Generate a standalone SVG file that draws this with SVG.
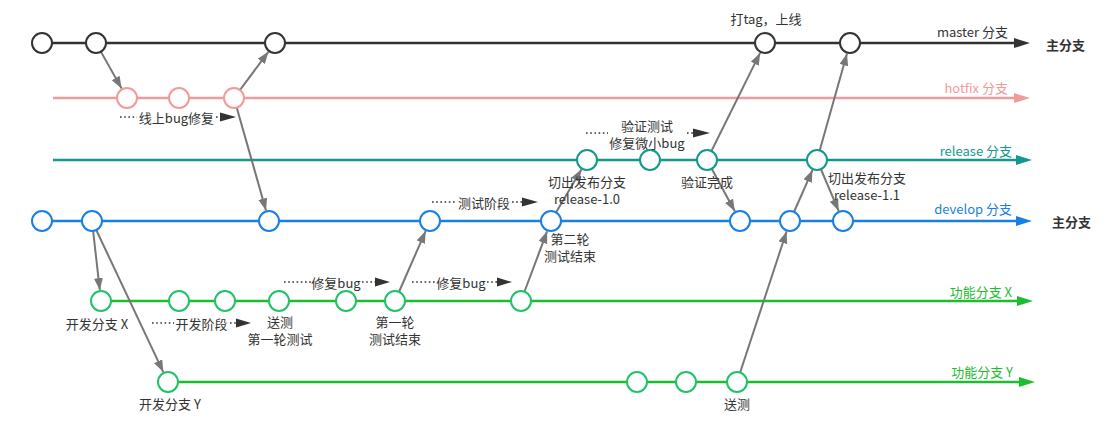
<svg xmlns="http://www.w3.org/2000/svg" width="1115" height="424" viewBox="0 0 1115 424">
<style>
text{font-family:"Noto Sans CJK SC","Noto Sans",sans-serif;font-size:13px;fill:#333;dominant-baseline:central}
.mid{text-anchor:middle}
.end{text-anchor:end}
.bold{font-weight:bold}
.c{fill:#fff;stroke-width:2}
.cm{stroke:#333}.ch{stroke:#f29a9b}.cr{stroke:#14988c}.cd{stroke:#1a7fe3}.cf{stroke:#22c16a}
.ln{stroke-width:2.5;fill:none}
.conn line{stroke:#777;stroke-width:2;marker-end:url(#ga)}
.dot{stroke:#333;stroke-width:1.6;stroke-dasharray:1.6 2.6}
.tri{fill:#333}
</style>
<defs>
<marker id="ga" markerUnits="userSpaceOnUse" markerWidth="13" markerHeight="10" refX="12" refY="4.5" orient="auto"><path d="M0,0 L12,4.5 L0,9 z" fill="#777"/></marker>
</defs>
<g id="branch-master"><line class="ln" x1="42" y1="43" x2="1014" y2="43" stroke="#333"/><polygon points="1014,38 1030,43 1014,48" fill="#333"/><text class="end" x="1008" y="31">master 分支</text><text class="bold" x="1046" y="44">主分支</text></g>
<g id="branch-hotfix"><line class="ln" x1="53" y1="98" x2="1014" y2="98" stroke="#f29a9b"/><polygon points="1014,93 1030,98 1014,103" fill="#f29a9b"/><text class="end" x="1008" y="87" style="fill:#f29a9b">hotfix 分支</text></g>
<g id="branch-release"><line class="ln" x1="53" y1="160" x2="1016" y2="160" stroke="#14988c"/><polygon points="1016,155 1032,160 1016,165" fill="#14988c"/><text class="end" x="1012" y="150" style="fill:#14988c">release 分支</text></g>
<g id="branch-develop"><line class="ln" x1="42" y1="221" x2="1016" y2="221" stroke="#1a7fe3"/><polygon points="1016,216 1032,221 1016,226" fill="#1a7fe3"/><text class="end" x="1012" y="208" style="fill:#1a7fe3">develop 分支</text><text class="bold" x="1052" y="221">主分支</text></g>
<g id="branch-featureX"><line class="ln" x1="101" y1="301" x2="1017" y2="301" stroke="#1ebd2f"/><polygon points="1017,296 1033,301 1017,306" fill="#1ebd2f"/><text class="end" x="1012" y="291" style="fill:#1ebd2f">功能分支 X</text></g>
<g id="branch-featureY"><line class="ln" x1="168" y1="382" x2="1019" y2="382" stroke="#1ebd2f"/><polygon points="1019,377 1035,382 1019,387" fill="#1ebd2f"/><text class="end" x="1013" y="371" style="fill:#1ebd2f">功能分支 Y</text></g>
<g id="connectors" class="conn">
<line x1="96" y1="43" x2="121.6" y2="88.4"/>
<line x1="234" y1="98" x2="268.4" y2="51.8"/>
<line x1="234" y1="98" x2="266" y2="210.4"/>
<line x1="92" y1="221" x2="99.8" y2="290.1"/>
<line x1="92" y1="221" x2="163.3" y2="372.1"/>
<line x1="395" y1="301" x2="425.6" y2="231.1"/>
<line x1="521" y1="301" x2="547.1" y2="231.3"/>
<line x1="551" y1="221" x2="581.4" y2="169.5"/>
<line x1="707" y1="160" x2="760.1" y2="52.9"/>
<line x1="707" y1="160" x2="734.8" y2="211.3"/>
<line x1="737" y1="382" x2="786.6" y2="231.4"/>
<line x1="790" y1="221" x2="812.5" y2="170.1"/>
<line x1="817" y1="160" x2="847" y2="53.6"/>
<line x1="817" y1="160" x2="838.7" y2="210.9"/>
</g>
<g id="m1"><circle class="c cm" cx="42" cy="43" r="10"/></g>
<g id="m2"><circle class="c cm" cx="96" cy="43" r="10"/></g>
<g id="m3"><circle class="c cm" cx="275" cy="43" r="10"/></g>
<g id="m4"><circle class="c cm" cx="765" cy="43" r="10"/><text class="mid" x="766" y="18">打tag，上线</text></g>
<g id="m5"><circle class="c cm" cx="850" cy="43" r="10"/></g>
<g id="h1"><circle class="c ch" cx="127" cy="98" r="10"/></g>
<g id="h2"><circle class="c ch" cx="179" cy="98" r="10"/></g>
<g id="h3"><circle class="c ch" cx="234" cy="98" r="10"/></g>
<g id="r1"><circle class="c cr" cx="587" cy="160" r="10"/><text class="mid" x="587" y="181">切出发布分支</text><text class="mid" x="587" y="198">release-1.0</text></g>
<g id="r2"><circle class="c cr" cx="650" cy="160" r="10"/></g>
<g id="r3"><circle class="c cr" cx="707" cy="160" r="10"/><text class="mid" x="707" y="181">验证完成</text></g>
<g id="r4"><circle class="c cr" cx="817" cy="160" r="10"/><text class="mid" x="867" y="177">切出发布分支</text><text class="mid" x="867" y="194">release-1.1</text></g>
<g id="d1"><circle class="c cd" cx="42" cy="221" r="10"/></g>
<g id="d2"><circle class="c cd" cx="92" cy="221" r="10"/></g>
<g id="d3"><circle class="c cd" cx="269" cy="221" r="10"/></g>
<g id="d4"><circle class="c cd" cx="430" cy="221" r="10"/></g>
<g id="d5"><circle class="c cd" cx="551" cy="221" r="10"/><text class="mid" x="570" y="238">第二轮</text><text class="mid" x="570" y="255">测试结束</text></g>
<g id="d6"><circle class="c cd" cx="740" cy="221" r="10"/></g>
<g id="d7"><circle class="c cd" cx="790" cy="221" r="10"/></g>
<g id="d8"><circle class="c cd" cx="843" cy="221" r="10"/></g>
<g id="x1"><circle class="c cf" cx="101" cy="301" r="10"/><text class="mid" x="97" y="323">开发分支 X</text></g>
<g id="x2"><circle class="c cf" cx="179" cy="301" r="10"/></g>
<g id="x3"><circle class="c cf" cx="225" cy="301" r="10"/></g>
<g id="x4"><circle class="c cf" cx="279" cy="301" r="10"/><text class="mid" x="280" y="321">送测</text><text class="mid" x="280" y="338">第一轮测试</text></g>
<g id="x5"><circle class="c cf" cx="346" cy="301" r="10"/></g>
<g id="x6"><circle class="c cf" cx="395" cy="301" r="10"/><text class="mid" x="395" y="321">第一轮</text><text class="mid" x="395" y="338">测试结束</text></g>
<g id="x7"><circle class="c cf" cx="521" cy="301" r="10"/></g>
<g id="y1"><circle class="c cf" cx="168" cy="382" r="10"/><text class="mid" x="170" y="403">开发分支 Y</text></g>
<g id="y2"><circle class="c cf" cx="637" cy="382" r="10"/></g>
<g id="y3"><circle class="c cf" cx="686" cy="382" r="10"/></g>
<g id="y4"><circle class="c cf" cx="737" cy="382" r="10"/><text class="mid" x="737" y="403">送测</text></g>
<g id="note-hotfix"><line class="dot" x1="120" y1="117" x2="137" y2="117"/><text class="mid" x="176.5" y="117">线上bug修复</text><line class="dot" x1="216" y1="117" x2="220" y2="117"/><polygon class="tri" points="220,112.5 236,117 220,121.5"/></g>
<g id="note-verify"><line class="dot" x1="586" y1="133" x2="608" y2="133"/><text class="mid" x="647" y="125">验证测试</text><text class="mid" x="647" y="142">修复微小bug</text><line class="dot" x1="687" y1="133" x2="693" y2="133"/><polygon class="tri" points="693,128.5 710,133 693,137.5"/></g>
<g id="note-test"><line class="dot" x1="432" y1="202" x2="456" y2="202"/><text class="mid" x="484" y="202">测试阶段</text><line class="dot" x1="512" y1="202" x2="522" y2="202"/><polygon class="tri" points="522,197.5 538,202 522,206.5"/></g>
<g id="note-dev"><line class="dot" x1="152" y1="323" x2="174" y2="323"/><text class="mid" x="201.5" y="323">开发阶段</text><line class="dot" x1="230" y1="323" x2="236" y2="323"/><polygon class="tri" points="236,318.5 251,323 236,327.5"/></g>
<g id="note-fix1"><line class="dot" x1="284" y1="282" x2="311" y2="282"/><text class="mid" x="336" y="282">修复bug</text><line class="dot" x1="362" y1="282" x2="375" y2="282"/><polygon class="tri" points="375,277.5 390,282 375,286.5"/></g>
<g id="note-fix2"><line class="dot" x1="412" y1="282" x2="436" y2="282"/><text class="mid" x="461" y="282">修复bug</text><line class="dot" x1="487" y1="282" x2="497" y2="282"/><polygon class="tri" points="497,277.5 512,282 497,286.5"/></g>
</svg>
